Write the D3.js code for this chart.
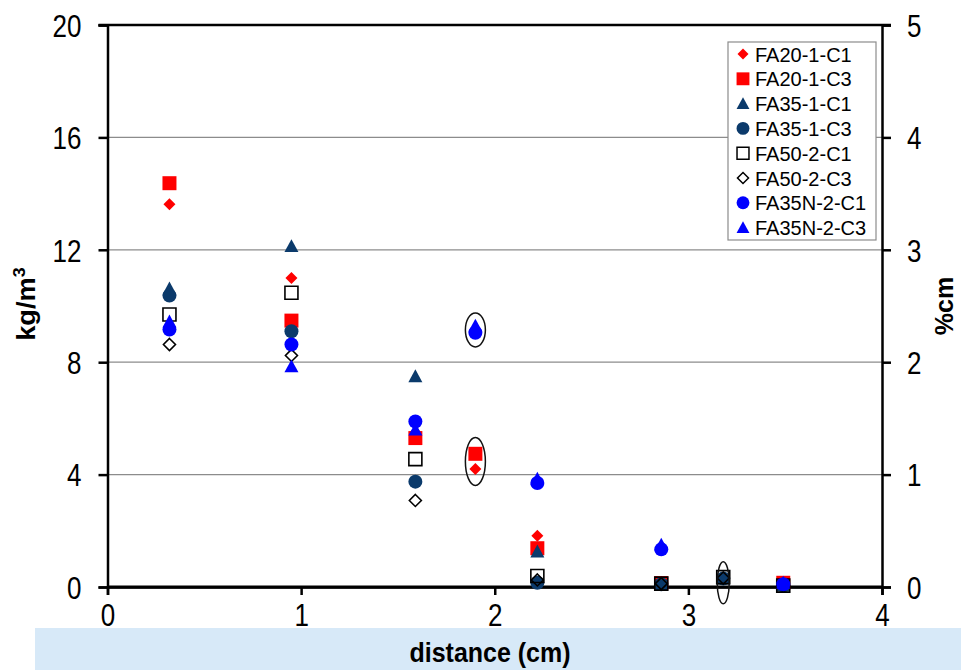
<!DOCTYPE html>
<html>
<head>
<meta charset="utf-8">
<script src="https://cdn.jsdelivr.net/npm/d3@7"></script>
<style>
  html, body { margin: 0; padding: 0; background: #ffffff; }
  svg { display: block; font-family: "Liberation Sans", Arial, sans-serif; }
</style>
</head>
<body>
<svg id="chart" width="961" height="670"></svg>
<script>
// Sampling positions (cm)
const xMain = [0.32, 0.95, 1.59, 1.90, 2.22, 2.86, 3.49];
const xAlt  = [0.32, 0.95, 1.59, 2.22, 2.86, 3.18, 3.49];

// Chloride content (kg/m3) per mix and core
const fa20_1_c1  = [13.62, 11.0, 5.5, 4.2, 1.82, 0.12, 0.12];
const fa20_1_c3  = [14.37, 9.48, 5.3, 4.74, 1.38, 0.14, 0.15];
const fa35_1_c1  = [10.62, 12.13, 7.5, 1.26, 0.1, 0.3, 0.05];
const fa35_1_c3  = [10.37, 9.1, 3.75, 0.15, 0.1, 0.3, 0.05];
const fa50_2_c1  = [9.7, 10.47, 4.55, 0.39, 0.12, 0.35, 0.05];
const fa50_2_c3  = [8.63, 8.24, 3.08, 0.25, 0.12, 0.32, 0.05];
const fa35n_2_c1 = [9.16, 8.63, 5.89, 9.05, 3.7, 1.34, 0.1];
const fa35n_2_c3 = [9.45, 7.85, 5.6, 9.3, 3.85, 1.5, 0.15];

const seriesNames = ["FA20-1-C1", "FA20-1-C3", "FA35-1-C1", "FA35-1-C3",
                     "FA50-2-C1", "FA50-2-C3", "FA35N-2-C1", "FA35N-2-C3"];

const xTicks = [0, 1, 2, 3, 4];
const yTicksLeft = [0, 4, 8, 12, 16, 20];
const yTicksRight = [0, 1, 2, 3, 4, 5];

// Circled points (data units)
const circledX = [1.90, 1.90, 3.18];
const circledY = [9.15, 4.47, 0.15];

const navy = "#0b3a6b";
const series = [
  { name: seriesNames[0], xs: xMain, ys: fa20_1_c1,  shape: "diamond",  fill: "#ff0000", stroke: "none", size: 12 },
  { name: seriesNames[1], xs: xMain, ys: fa20_1_c3,  shape: "square",   fill: "#ff0000", stroke: "none", size: 14 },
  { name: seriesNames[2], xs: xAlt,  ys: fa35_1_c1,  shape: "triangle", fill: navy,      stroke: "none", size: 14 },
  { name: seriesNames[3], xs: xAlt,  ys: fa35_1_c3,  shape: "circle",   fill: navy,      stroke: "none", size: 14 },
  { name: seriesNames[4], xs: xAlt,  ys: fa50_2_c1,  shape: "square",   fill: "none",    stroke: "#000", size: 13 },
  { name: seriesNames[5], xs: xAlt,  ys: fa50_2_c3,  shape: "diamond",  fill: "none",    stroke: "#000", size: 12 },
  { name: seriesNames[6], xs: xMain, ys: fa35n_2_c1, shape: "circle",   fill: "#0000ff", stroke: "none", size: 14 },
  { name: seriesNames[7], xs: xMain, ys: fa35n_2_c3, shape: "triangle", fill: "#0000ff", stroke: "none", size: 14 }
];

const svg = d3.select("#chart");
const W = 961, H = 670;
const plot = { left: 107.5, right: 882, top: 25, bottom: 587 };

// Light blue strip along the bottom
svg.append("rect").attr("x", 35).attr("y", 628).attr("width", W - 35).attr("height", H - 628)
  .attr("fill", "#d7e9f8");

const x = d3.scaleLinear().domain([0, 4]).range([plot.left, plot.right]);
const y = d3.scaleLinear().domain([0, 20]).range([plot.bottom, plot.top]);
const yR = d3.scaleLinear().domain([0, 5]).range([plot.bottom, plot.top]);

// Horizontal gridlines
svg.append("g").selectAll("line").data(yTicksLeft.filter(v => v > 0 && v < 20)).join("line")
  .attr("x1", plot.left).attr("x2", plot.right)
  .attr("y1", d => y(d)).attr("y2", d => y(d))
  .attr("stroke", "#8c8c8c").attr("stroke-width", 1.2);

// Axes
const tickFont = 26;
const stretch = 1.2;   // tall, narrow lettering of the tick labels
const gL = svg.append("g").attr("transform", `translate(${plot.left},0)`)
  .call(d3.axisLeft(y).tickValues(yTicksLeft).tickFormat(d3.format("d")).tickSize(9).tickPadding(17));
const gR = svg.append("g").attr("transform", `translate(${plot.right},0)`)
  .call(d3.axisRight(yR).tickValues(yTicksRight).tickFormat(d3.format("d")).tickSize(9).tickPadding(16));
const gB = svg.append("g").attr("transform", `translate(0,${plot.bottom})`)
  .call(d3.axisBottom(x).tickValues(xTicks).tickFormat(d3.format("d")).tickSize(8).tickPadding(12));

[gL, gR, gB].forEach(g => {
  g.select(".domain").attr("stroke", "#000").attr("stroke-width", 2.5);
  g.selectAll(".tick line").attr("stroke", "#000").attr("stroke-width", 2.5);
  g.selectAll(".tick text").attr("font-size", tickFont).attr("fill", "#000")
    .attr("font-family", "Liberation Sans, Arial, sans-serif");
});
// Vertical stretch of tick labels, keeping their anchor points
function stretchTicks(g, baseline) {
  g.selectAll(".tick text").each(function () {
    const t = d3.select(this);
    const tx = +t.attr("x") || 0;
    const by = baseline(t);
    t.attr("x", null).attr("y", null).attr("dy", null)
      .attr("transform", `translate(${tx},${by}) scale(1,${stretch})`);
  });
}
stretchTicks(gL, () => 0.36 * tickFont * stretch);
stretchTicks(gR, () => 0.36 * tickFont * stretch);
stretchTicks(gB, () => 39);

// Plot top border
svg.append("line").attr("x1", plot.left - 9).attr("x2", plot.right + 9)
  .attr("y1", plot.top).attr("y2", plot.top).attr("stroke", "#000").attr("stroke-width", 2.5);
svg.append("line").attr("x1", plot.left).attr("x2", plot.right)
  .attr("y1", plot.bottom).attr("y2", plot.bottom).attr("stroke", "#000").attr("stroke-width", 3);

// Axis titles
svg.append("text").attr("transform", "translate(490,662) scale(1,1.1)")
  .attr("text-anchor", "middle").attr("font-size", 25).attr("font-weight", "bold")
  .text("distance (cm)");
const yl = svg.append("text").attr("transform", "translate(35,304) rotate(-90) scale(1.05,1)")
  .attr("text-anchor", "middle").attr("font-size", 26).attr("font-weight", "bold");
yl.append("tspan").text("kg/m");
yl.append("tspan").attr("dy", -10).attr("font-size", 17).text("3");
svg.append("text").attr("transform", "translate(953,306) rotate(-90)")
  .attr("text-anchor", "middle").attr("font-size", 25).attr("font-weight", "bold")
  .text("%cm");

// Marker shapes
function symbolPath(shape, size) {
  const s = size / 2;
  switch (shape) {
    case "square": return `M${-s},${-s}H${s}V${s}H${-s}Z`;
    case "diamond": return `M0,${-s}L${s},0L0,${s}L${-s},0Z`;
    case "triangle": return `M0,${-s}L${s},${s * 0.85}L${-s},${s * 0.85}Z`;
    default: return d3.arc()({ innerRadius: 0, outerRadius: s, startAngle: 0, endAngle: 2 * Math.PI });
  }
}

const marks = svg.append("g");
series.forEach(sr => {
  marks.append("g").selectAll("path").data(sr.ys.map((v, i) => [sr.xs[i], v])).join("path")
    .attr("transform", d => `translate(${x(d[0])},${y(d[1])})`)
    .attr("d", symbolPath(sr.shape, sr.size))
    .attr("fill", sr.fill)
    .attr("stroke", sr.stroke)
    .attr("stroke-width", sr.stroke === "none" ? 0 : 1.6);
});

// Ellipses around the marked points
const ellipseR = [[10, 17], [10, 24], [6, 21]];
svg.append("g").selectAll("ellipse").data(circledX.map((v, i) => [v, circledY[i], ...ellipseR[i]])).join("ellipse")
  .attr("cx", d => x(d[0])).attr("cy", d => y(d[1]))
  .attr("rx", d => d[2]).attr("ry", d => d[3])
  .attr("fill", "none").attr("stroke", "#111").attr("stroke-width", 1.5);

// Legend
const lg = svg.append("g").attr("transform", "translate(728,42)");
lg.append("rect").attr("width", 148).attr("height", 198)
  .attr("fill", "#fff").attr("stroke", "#8c8c8c").attr("stroke-width", 1.2);
series.forEach((sr, i) => {
  const row = lg.append("g").attr("transform", `translate(0,${12 + i * 24.8})`);
  row.append("path").attr("transform", "translate(15,0)")
    .attr("d", symbolPath(sr.shape, sr.size * 0.92))
    .attr("fill", sr.fill).attr("stroke", sr.stroke)
    .attr("stroke-width", sr.stroke === "none" ? 0 : 1.5);
  row.append("text").attr("x", 27).attr("y", 7.5).attr("font-size", 20).text(sr.name);
});
</script>
</body>
</html>
